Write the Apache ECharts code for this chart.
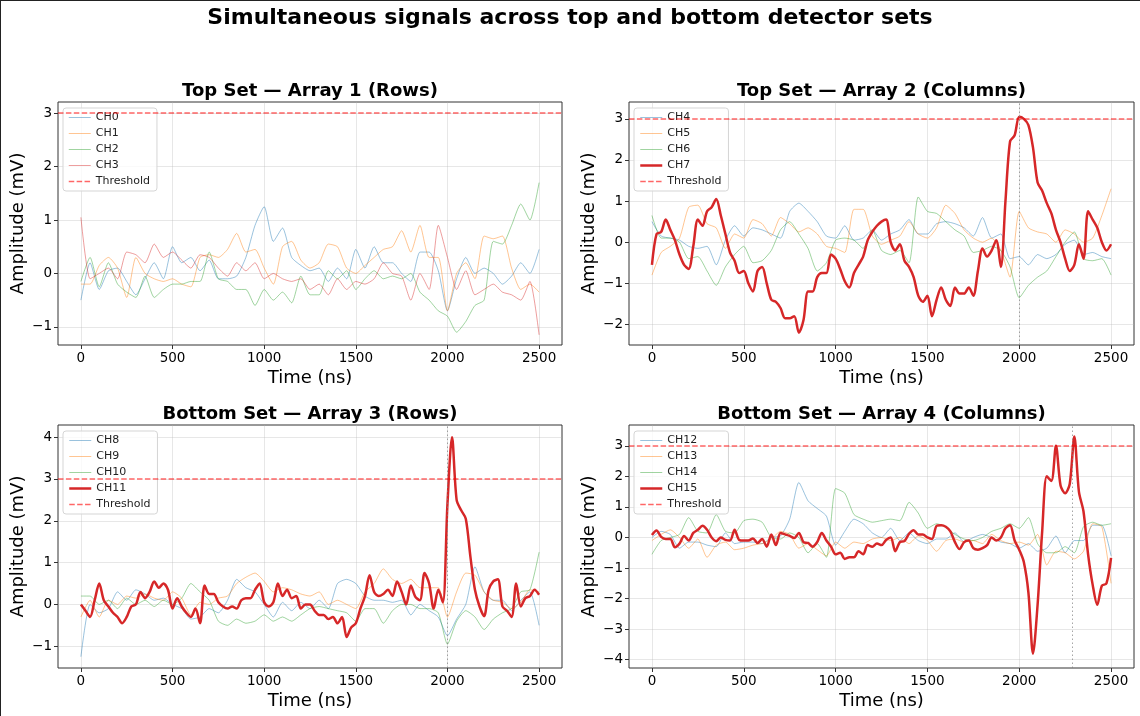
<!DOCTYPE html>
<html>
<head>
<meta charset="utf-8">
<title>Simultaneous signals across top and bottom detector sets</title>
<script src="https://cdn.jsdelivr.net/npm/echarts@6.0.0/dist/echarts.min.js"></script>
<style>
  html, body { margin: 0; padding: 0; background: #fff; }
  #chart { width: 1140px; height: 716px; }
  .frame { position: absolute; left: 0; top: 0; width: 1140px; height: 716px;
           border-top: 1px solid #222; border-left: 1px solid #222; pointer-events: none; }
</style>
</head>
<body>
<div id="chart"></div>
<div class="frame"></div>
<script>
var FONT = 'DejaVu Sans';
var SAMPLE_NS = 50;      // quiet channels, one sample every 50 ns
var SAMPLE_NS_HIT = 25;  // the channel that fired, one sample every 25 ns

var xTicks = [0, 500, 1000, 1500, 2000, 2500];
var threshold = 3;
var triggerTimes = [null, 2000, 2000, 2290];

// Top set, array 1 (rows)  -- 0..2500 ns
var ch0 = [
  -0.5, 0.2, -0.3, 0.05, 0.1, -0.15, -0.4, -0.1, 0.2, -0.1,
  0.5, 0.2, 0.3, 0.05, 0.25, -0.1, -0.1, -0.05, 0.3, 0.9,
  1.25, 0.6, 0.85, 0.3, 0.15, 0.05, 0.1, -0.15, 0.1, -0.1,
  0.45, 0.1, 0.5, 0.2, 0.2, 0.0, -0.15, 0.4, 0.4, 0.05,
  -0.7, -0.1, 0.3, 0.0, 0.1, 0.0, -0.2, -0.05, 0.2, 0.0,
  0.45];
var ch1 = [
  -0.2, -0.2, 0.15, 0.3, 0.1, -0.45, 0.3, 0.0, -0.1, -0.15,
  -0.1, -0.2, -0.25, 0.3, 0.35, 0.3, 0.45, 0.75, 0.4, 0.45,
  0.1, -0.2, 0.5, 0.6, 0.25, 0.1, 0.2, 0.55, 0.5, 0.1,
  0.0, 0.15, 0.3, 0.45, 0.5, 0.8, 0.4, 0.9, 0.3, 0.3,
  -0.7, 0.0, 0.2, -0.1, 0.7, 0.65, 0.7, 0.1, -0.3, -0.2,
  -0.35];
var ch2 = [
  -0.15, 0.3, -0.25, 0.2, -0.2, -0.35, -0.45, -0.05, -0.45, -0.3,
  -0.2, -0.2, -0.15, -0.15, 0.4, -0.1, -0.15, -0.3, -0.3, -0.6,
  -0.3, -0.5, -0.35, -0.55, -0.05, -0.4, -0.4, 0.05, -0.1, 0.05,
  -0.3, -0.1, 0.05, -0.1, -0.05, -0.1, 0.0, -0.35, -0.5, -0.7,
  -0.8, -1.1, -0.9, -0.6, -0.5, 0.6, 0.55, 0.9, 1.3, 1.0,
  1.7];
var ch3 = [
  1.05, -0.1, 0.0, 0.1, -0.1, 0.4, 0.35, 0.2, 0.55, 0.3,
  0.4, 0.25, 0.1, 0.35, 0.3, 0.1, -0.05, 0.2, 0.05, 0.2,
  -0.1, 0.0, -0.1, -0.15, -0.1, -0.3, -0.2, -0.4, -0.1, -0.3,
  -0.15, -0.2, -0.1, 0.2, 0.0, -0.05, -0.5, 0.0, -0.3, 0.9,
  0.3, -0.3, 0.05, -0.4, -0.3, -0.2, -0.35, -0.4, -0.5, -0.15,
  -1.15];

// Top set, array 2 (columns)
var ch4 = [
  0.5, 0.15, 0.1, 0.05, -0.1, -0.15, -0.1, -0.55, 0.05, 0.4,
  0.15, 0.35, 0.3, 0.2, 0.1, 0.75, 0.95, 0.75, 0.5, 0.15,
  0.1, 0.4, 0.05, 0.1, 0.3, 0.05, 0.2, 0.3, 0.55, 0.2,
  0.2, 0.45, 0.5, 0.45, 0.35, 0.15, 0.6, 0.1, 0.2, -0.4,
  -0.35, -0.55, -0.3, -0.4, -0.3, -0.05, 0.05, -0.3, -0.25, -0.35,
  -0.4];
var ch5 = [
  -0.8, -0.25, -0.1, 0.1, 0.85, 0.9, 0.45, 0.35, -0.15, 0.2,
  0.1, 0.55, 0.45, 0.15, 0.6, 0.45, 0.25, 0.35, 0.2, -0.1,
  -0.15, -0.25, 0.8, 0.8, 0.15, -0.05, 0.05, 0.15, 0.5, 0.2,
  0.1, 0.35, 0.9, 0.7, 0.3, 0.1, 0.0, 0.1, -0.2, -0.85,
  0.75, 0.35, 0.25, 0.2, 0.0, 0.3, 0.2, 0.0, 0.1, 0.65,
  1.3];
var ch6 = [
  0.65, 0.1, 0.1, 0.0, -0.4, -0.35, -0.7, -1.05, -0.6, -0.3,
  -0.1, -0.5, -0.45, -0.2, 0.3, 0.5, 0.2, -0.15, -0.7, -0.5,
  0.05, 0.1, 0.05, -0.15, 0.3, -0.2, -0.3, -0.2, -0.5, 1.1,
  0.75, 0.7, 0.5, 0.3, 0.15, -0.25, -0.2, -0.1, -0.2, -0.6,
  -1.35, -1.05, -0.85, -0.7, -0.35, 0.0, 0.25, -0.4, -0.45, -0.4,
  -0.8];
var ch7 = [
  -0.55, 0.2, 0.25, 0.55, 0.3, 0.05, -0.3, -0.55, -0.65, -0.1,
  0.55, 0.4, 0.75, 0.85, 1.05, 0.65, 0.2, -0.25, -0.45, -0.75,
  -0.7, -1.0, -1.2, -0.7, -0.6, -1.0, -1.4, -1.45, -1.6, -1.85,
  -1.85, -1.8, -2.2, -1.9, -1.2, -1.2, -0.85, -0.75, -0.75, -0.3,
  -0.4, -0.65, -0.95, -1.1, -0.75, -0.55, -0.35, 0.05, 0.25, 0.4,
  0.5, 0.55, 0.0, -0.2, -0.05, -0.45, -0.6, -0.85, -1.3, -1.45,
  -1.3, -1.8, -1.4, -1.1, -1.4, -1.55, -1.1, -1.25, -1.25, -1.1,
  -1.3, -0.7, -0.15, -0.35, -0.2, 0.05, -0.6, 1.0, 2.45, 2.6,
  3.05, 3.0, 2.85, 2.3, 1.45, 1.25, 0.95, 0.7, 0.3, 0.0,
  -0.4, -0.7, -0.55, -0.05, -0.4, 0.75, 0.55, 0.35, 0.0, -0.2,
  -0.05];

// Bottom set, array 3 (rows)
var ch8 = [
  -1.25, 0.0, -0.2, -0.1, 0.3, 0.1, 0.35, 0.25, 0.1, 0.15,
  0.0, -0.1, -0.35, -0.3, -0.1, -0.2, 0.1, 0.6, 0.4, 0.3,
  0.0, -0.3, 0.05, -0.15, 0.05, -0.1, 0.1, -0.1, 0.5, 0.6,
  0.5, 0.2, 0.1, 0.1, 0.05, 0.1, -0.25, 0.0, -0.15, -0.3,
  -0.75, -0.35, 0.0, 0.9, 0.3, 0.1, 0.1, -0.15, 0.1, 0.3,
  -0.5];
var ch9 = [
  -0.3, 0.1, -0.3, 0.1, 0.0, 0.2, 0.15, 0.25, 0.15, 0.1,
  0.3, 0.15, -0.25, 0.05, 0.0, 0.15, 0.2, 0.5, 0.65, 0.75,
  0.55, 0.3, 0.4, 0.35, 0.25, 0.2, 0.3, 0.0, 0.1, 0.0,
  -0.1, 0.3, 0.5, 0.85, 0.6, 0.5, 0.6, 0.4, 0.4, 0.4,
  -0.3, 0.3, 0.75, 0.7, 0.3, 0.1, 0.05, -0.1, 0.05, 0.35,
  0.3];
var ch10 = [
  0.2, 0.2, 0.0, 0.1, -0.1, 0.15, 0.0, 0.1, -0.05, 0.1,
  0.0, 0.15, 0.5, 0.3, 0.1, -0.4, -0.5, -0.35, -0.45, -0.4,
  -0.25, -0.4, -0.3, -0.4, -0.25, -0.1, -0.05, -0.1, -0.15, -0.2,
  -0.4, -0.1, -0.1, -0.45, -0.15, 0.0, 0.0, -0.1, -0.1, -0.2,
  -0.95, -0.4, -0.15, -0.3, -0.6, -0.35, -0.2, -0.1, 0.3, 0.35,
  1.25];
var ch11 = [
  0.0, -0.15, -0.3, 0.1, 0.5, 0.1, -0.05, -0.2, -0.3, -0.45,
  -0.3, -0.05, 0.0, 0.3, 0.15, 0.3, 0.55, 0.4, 0.5, 0.35,
  -0.1, 0.15, -0.05, -0.2, -0.3, -0.1, -0.45, 0.45, 0.25, 0.25,
  0.05, -0.05, -0.1, -0.05, -0.1, 0.1, 0.15, 0.15, 0.35, 0.5,
  0.05, -0.05, 0.05, 0.5, 0.2, 0.35, 0.15, 0.2, -0.1, 0.0,
  0.0, -0.15, -0.25, -0.25, -0.35, -0.3, -0.45, -0.3, -0.78, -0.55,
  -0.45, -0.1, 0.2, 0.7, 0.3, 0.2, 0.25, 0.35, 0.2, 0.55,
  0.3, 0.0, 0.45, 0.18, 0.1, 0.75, 0.5, -0.1, 0.35, 0.05,
  2.4, 4.0, 2.5, 2.25, 2.05, 1.15, 0.35, -0.05, -0.28, 0.35,
  0.55, 0.6, -0.05, -0.15, -0.3, 0.5, -0.05, 0.15, 0.2, 0.35,
  0.23];

// Bottom set, array 4 (columns)
var ch12 = [
  0.0, 0.2, 0.1, -0.35, -0.15, -0.15, -0.25, -0.3, 0.15, -0.2,
  -0.15, -0.15, -0.2, 0.0, 0.05, 0.6, 1.8, 1.2, 0.95, 0.7,
  -0.25, 0.2, 0.6, 0.45, 0.15, 0.0, 0.3, -0.1, 0.15, -0.1,
  -0.2, -0.05, -0.05, 0.15, -0.15, 0.0, 0.1, 0.0, -0.15, -0.2,
  -0.35, -0.2, -0.45, -0.35, 0.05, -0.5, -0.1, -0.1, 0.4, 0.4,
  -0.6];
var ch13 = [
  -0.1, 0.1, 0.25, 0.0, -0.35, -0.05, -0.65, -0.25, -0.15, -0.4,
  -0.35, -0.25, -0.2, -0.05, 0.2, 0.1, -0.35, -0.2, -0.4, -0.6,
  -0.15, -0.35, -0.15, -0.2, -0.05, 0.0, -0.1, 0.0, -0.2, 0.05,
  -0.1, -0.45, -0.1, -0.05, -0.15, -0.1, -0.2, 0.1, -0.1, -0.2,
  -0.15, -0.25, 0.1, -0.9, -0.45, -0.5, -0.7, -0.45, 0.45, 0.35,
  -1.5];
var ch14 = [
  -0.55, -0.1, 0.0, 0.1, 0.65, 0.2, 0.15, 0.75, 0.2, 0.15,
  0.55, 0.6, 0.5, 0.0, -0.05, 0.15, 0.0, -0.5, -0.2, -0.65,
  1.6, 1.45, 0.75, 0.6, 0.5, 0.55, 0.6, 0.55, 1.15, 0.8,
  0.3, 0.45, 0.35, 0.1, -0.05, -0.1, 0.0, 0.2, 0.3, 0.45,
  0.3, 0.65, -0.2, -0.5, -0.5, -0.3, -0.5, 0.35, 0.5, 0.4,
  0.45];
var ch15 = [
  0.08, 0.23, 0.02, -0.05, -0.05, -0.32, -0.2, 0.05, -0.1, 0.15,
  0.25, 0.38, 0.25, 0.0, -0.12, 0.0, -0.08, -0.1, 0.25, -0.08,
  -0.1, -0.1, -0.03, -0.18, -0.05, -0.3, 0.1, -0.25, 0.15, 0.1,
  0.05, -0.02, 0.15, -0.15, -0.18, -0.3, -0.15, 0.15, -0.1, -0.3,
  -0.55, -0.5, -0.7, -0.65, -0.65, -0.45, -0.55, -0.25, -0.3, -0.2,
  -0.25, -0.08, 0.0, -0.45, -0.15, -0.12, 0.12, 0.24, 0.1, 0.1,
  0.0, -0.05, 0.38, 0.4, 0.35, 0.2, -0.15, -0.38, -0.15, -0.1,
  -0.35, -0.4, -0.35, -0.25, 0.0, -0.1, 0.0, 0.3, 0.4, -0.1,
  -0.4, -0.8, -1.8, -3.8, -2.2, 0.2, 2.0, 1.85, 3.0, 1.7,
  1.45, 1.75, 3.3, 1.5, 0.85, -0.55, -1.55, -2.2, -1.58, -1.5,
  -0.67];

var tab10 = ['#1f77b4', '#ff7f0e', '#2ca02c', '#d62728'];
var thrColor = 'rgba(255,0,0,0.6)';

var panels = [
  { title: 'Top Set \u2014 Array 1 (Rows)', names: ['CH0', 'CH1', 'CH2', 'CH3'],
    values: [ch0, ch1, ch2, ch3], hit: -1, y: [-1.34, 3.21], split: 5, box: [58, 102, 504, 243] },
  { title: 'Top Set \u2014 Array 2 (Columns)', names: ['CH4', 'CH5', 'CH6', 'CH7'],
    values: [ch4, ch5, ch6, ch7], hit: 3, y: [-2.5, 3.41], split: 6, box: [629, 102, 505, 243] },
  { title: 'Bottom Set \u2014 Array 3 (Rows)', names: ['CH8', 'CH9', 'CH10', 'CH11'],
    values: [ch8, ch9, ch10, ch11], hit: 3, y: [-1.52, 4.29], split: 6, box: [58, 425, 504, 243] },
  { title: 'Bottom Set \u2014 Array 4 (Columns)', names: ['CH12', 'CH13', 'CH14', 'CH15'],
    values: [ch12, ch13, ch14, ch15], hit: 3, y: [-4.27, 3.68], split: 8, box: [629, 425, 505, 243] }
];

function pairs(vals, step) {
  return vals.map(function (v, i) { return [i * step, v]; });
}
function fade(hex, a) {
  var n = parseInt(hex.slice(1), 16);
  return 'rgba(' + (n >> 16) + ',' + ((n >> 8) & 255) + ',' + (n & 255) + ',' + a + ')';
}
function minus(v) { return String(v).replace('-', '\u2212'); }

var option = {
  animation: false,
  title: [{
    text: 'Simultaneous signals across top and bottom detector sets',
    left: 'center', top: 2,
    textStyle: { fontFamily: FONT, fontSize: 22, fontWeight: 'bold', color: '#000' }
  }],
  grid: [], xAxis: [], yAxis: [], legend: [], series: []
};

panels.forEach(function (p, k) {
  var b = p.box;
  option.grid.push({ left: b[0], top: b[1], width: b[2], height: b[3],
    show: true, borderColor: '#333', borderWidth: 1 });

  option.title.push({ text: p.title, left: b[0] + b[2] / 2, top: b[1] - 20, textAlign: 'center',
    padding: 0,
    textStyle: { fontFamily: FONT, fontSize: 18, fontWeight: 'bold', color: '#000' } });

  option.xAxis.push({
    type: 'value', gridIndex: k, min: -125, max: 2625, splitNumber: 5,
    name: 'Time (ns)', nameLocation: 'middle', nameGap: 24,
    nameTextStyle: { fontFamily: FONT, fontSize: 18, color: '#000' },
    axisLine: { show: false, onZero: false },
    axisTick: { length: 4, customValues: xTicks, lineStyle: { color: '#333' } },
    axisLabel: { fontFamily: FONT, fontSize: 13.5, color: '#000', margin: 6,
      showMinLabel: false, showMaxLabel: false, formatter: minus },
    splitLine: { show: true, lineStyle: { color: 'rgba(176,176,176,0.3)', width: 1 } }
  });

  var yt = [];
  for (var v = Math.ceil(p.y[0]); v <= Math.floor(p.y[1]); v++) yt.push(v);
  option.yAxis.push({
    type: 'value', gridIndex: k, min: p.y[0], max: p.y[1], splitNumber: p.split,
    name: 'Amplitude (mV)', nameLocation: 'middle', nameGap: 31,
    nameTextStyle: { fontFamily: FONT, fontSize: 18, color: '#000' },
    axisLine: { show: false, onZero: false },
    axisTick: { length: 4, customValues: yt, lineStyle: { color: '#333' } },
    axisLabel: { fontFamily: FONT, fontSize: 13.5, color: '#000', margin: 6,
      showMinLabel: false, showMaxLabel: false, formatter: minus },
    splitLine: { show: true, lineStyle: { color: 'rgba(176,176,176,0.3)', width: 1 } }
  });

  var legendData = [];
  p.names.forEach(function (name, j) {
    var hit = p.hit === j;
    var col = hit ? tab10[j] : fade(tab10[j], 0.45);
    var s = {
      type: 'line', name: name, xAxisIndex: k, yAxisIndex: k,
      data: pairs(p.values[j], hit ? SAMPLE_NS_HIT : SAMPLE_NS),
      symbol: 'none', showSymbol: false, smooth: hit ? 0.3 : 0.2,
      lineStyle: { width: hit ? 2.5 : 1, color: col },
      itemStyle: { color: col },
      z: hit ? 4 : 2
    };
    if (hit && triggerTimes[k] != null) {
      s.markLine = { silent: true, symbol: 'none', label: { show: false },
        lineStyle: { color: 'rgba(128,128,128,0.7)', width: 1, type: [1.5, 2.5] },
        data: [{ xAxis: triggerTimes[k] }] };
    }
    option.series.push(s);
    legendData.push({ name: name, lineStyle: { width: hit ? 2.5 : 1 } });
  });

  option.series.push({
    type: 'line', name: 'Threshold', xAxisIndex: k, yAxisIndex: k, data: [],
    symbol: 'none', z: 3,
    lineStyle: { color: thrColor, width: 1.5, type: [5.5, 2.4] },
    itemStyle: { color: thrColor },
    markLine: { silent: true, symbol: 'none', label: { show: false },
      lineStyle: { color: thrColor, width: 1.5, type: [5.5, 2.4] },
      data: [{ yAxis: threshold }] }
  });
  legendData.push({ name: 'Threshold', lineStyle: { width: 1.5 } });

  option.legend.push({
    orient: 'vertical', left: b[0] + 5, top: b[1] + 6,
    data: legendData, selectedMode: false,
    itemWidth: 22, itemHeight: 11, itemGap: 5,
    itemStyle: { opacity: 0 },
    padding: [4, 7, 4, 5],
    backgroundColor: 'rgba(255,255,255,0.8)', borderColor: '#d5d5d5', borderWidth: 1, borderRadius: 3,
    textStyle: { fontFamily: FONT, fontSize: 11, color: '#222' }
  });
});

var chart = echarts.init(document.getElementById('chart'));
chart.setOption(option);
</script>
</body>
</html>
